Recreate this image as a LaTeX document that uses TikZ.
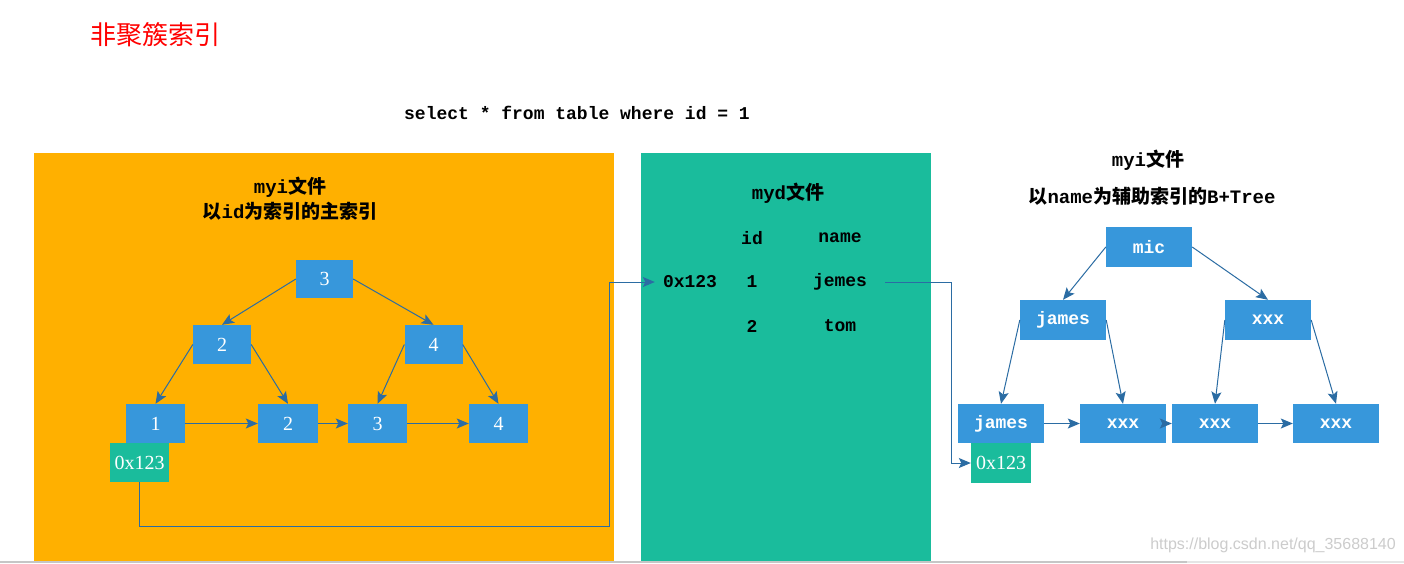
\documentclass[tikz,border=0pt]{standalone}
\usepackage{fontspec}
\setmainfont{Liberation Serif}
\setmonofont{Liberation Mono}
\setsansfont{Liberation Sans}
\newfontfamily\cjk{Noto Sans CJK SC}
\usetikzlibrary{arrows.meta}
\definecolor{panelorange}{RGB}{255,176,0}
\definecolor{panelgreen}{RGB}{26,188,156}
\definecolor{boxblue}{RGB}{55,151,219}
\definecolor{linkblue}{RGB}{43,108,163}
\tikzset{
  bbox/.style={fill=boxblue, inner sep=0pt, text=white, minimum width=58pt, minimum height=39pt,
    font=\fontsize{20}{22}\selectfont},
  rbox/.style={fill=boxblue, inner sep=0pt, text=white, minimum width=86pt, minimum height=40pt,
    font=\ttfamily\bfseries\fontsize{18}{20}\selectfont},
  gbox/.style={fill=panelgreen, inner sep=0pt, text=white, minimum width=59pt, minimum height=39pt,
    font=\fontsize{20}{22}\selectfont},
  heading/.style={inner sep=0pt, text=black, font=\ttfamily\bfseries\fontsize{19}{21}\selectfont},
  cell/.style={inner sep=0pt, text=black, font=\ttfamily\bfseries\fontsize{18}{20}\selectfont},
  arr/.style={draw=linkblue, line width=1pt, -{Stealth[length=12pt,width=10pt,inset=2.5pt]}},
  link/.style={draw=linkblue, line width=1pt}
}
\begin{document}
\begin{tikzpicture}[x=1pt,y=-1pt]
\useasboundingbox (0,0) rectangle (1404,563);
\fill[white] (0,0) rectangle (1404,563);
% panels
\fill[panelorange] (34,153) rectangle (614,561);
\fill[panelgreen] (641,153) rectangle (931,561);
\draw[gray!45, line width=1.5pt] (0,562) -- (1187,562);
\draw[gray!20, line width=1.5pt] (1187,562) -- (1404,562);
% title and query
\node[inner sep=0pt, text=red, font=\cjk\fontsize{26}{28}\selectfont] (title) at (155,35) {非聚簇索引};
\node[inner sep=0pt, font=\ttfamily\bfseries\fontsize{18}{20}\selectfont] (query) at (577,113) {select * from table where id = 1};
% left panel headings
\node[heading] (lh1) at (290,187) {myi{\cjk 文件}};
\node[heading] (lh2) at (290,211) {{\cjk 以}id{\cjk 为索引的主索引}};
% left tree
\node[bbox, minimum width=57pt, minimum height=38pt] (r3) at (324.5,279) {3};
\node[bbox] (l2a) at (222,344.5) {2};
\node[bbox] (l2b) at (433.5,344.5) {4};
\node[bbox, minimum width=59pt] (lf1) at (155.5,423.5) {1};
\node[bbox, minimum width=60pt] (lf2) at (288,423.5) {2};
\node[bbox, minimum width=59pt] (lf3) at (377.5,423.5) {3};
\node[bbox, minimum width=59pt] (lf4) at (498.5,423.5) {4};
\node[gbox] (gA) at (139.5,462.5) {0x123};
\draw[arr] (r3.west) -- (l2a.north);
\draw[arr] (r3.east) -- (l2b.north);
\draw[arr] (l2a.west) -- (lf1.north);
\draw[arr] (l2a.east) -- (lf2.north);
\draw[arr] (l2b.west) -- (lf3.north);
\draw[arr] (l2b.east) -- (lf4.north);
\draw[arr] (lf1.east) -- (lf2.west);
\draw[arr] (lf2.east) -- (lf3.west);
\draw[arr] (lf3.east) -- (lf4.west);
% middle panel
\node[heading] (mh) at (788,193) {myd{\cjk 文件}};
\node[cell] (hid) at (752,238) {id};
\node[cell] (hname) at (840,238) {name};
\node[cell, inner sep=8pt] (t0x) at (690,282) {0x123};
\node[cell] (t1) at (752,282) {1};
\node[cell] (tj) at (840,282) {jemes};
\node[cell] (t2) at (752,326) {2};
\node[cell] (tt) at (840,326) {tom};
% connector left tree -> myd
\coordinate (c1) at (609,526);
\coordinate (c2) at (609,282);
\draw[arr] (gA.south) |- (c1) -- (c2) -- (t0x.west);
% right panel headings
\node[heading] (rh1) at (1148,160) {myi{\cjk 文件}};
\node[heading] (rh2) at (1152,196) {{\cjk 以}name{\cjk 为辅助索引的}B+Tree};
% right tree
\node[rbox] (mic) at (1149,247) {mic};
\node[rbox] (rj) at (1063,320) {james};
\node[rbox] (rx) at (1268,320) {xxx};
\node[rbox, minimum height=39pt] (lj) at (1001,423.5) {james};
\node[rbox, minimum height=39pt] (lx1) at (1123,423.5) {xxx};
\node[rbox, minimum height=39pt] (lx2) at (1215,423.5) {xxx};
\node[rbox, minimum height=39pt] (lx3) at (1336,423.5) {xxx};
\node[gbox, minimum width=60pt, minimum height=40pt] (gB) at (1001,463) {0x123};
\draw[arr] (mic.west) -- (rj.north);
\draw[arr] (mic.east) -- (rx.north);
\draw[arr] (rj.west) -- (lj.north);
\draw[arr] (rj.east) -- (lx1.north);
\draw[arr] (rx.west) -- (lx2.north);
\draw[arr] (rx.east) -- (lx3.north);
\draw[arr] (lj.east) -- (lx1.west);
\draw[arr] (lx1.east) -- (lx2.west);
\draw[arr] (lx2.east) -- (lx3.west);
% connector myd -> right tree
\coordinate (c3) at (951.5,282);
\draw[arr] ([xshift=18pt]tj.east) -- (c3) |- (gB.west);
% watermark
\node[inner sep=0pt, text=gray!40, font=\sffamily\fontsize{16}{18}\selectfont] (wm) at (1273,545) {https://blog.csdn.net/qq\_35688140};
\end{tikzpicture}
\end{document}
